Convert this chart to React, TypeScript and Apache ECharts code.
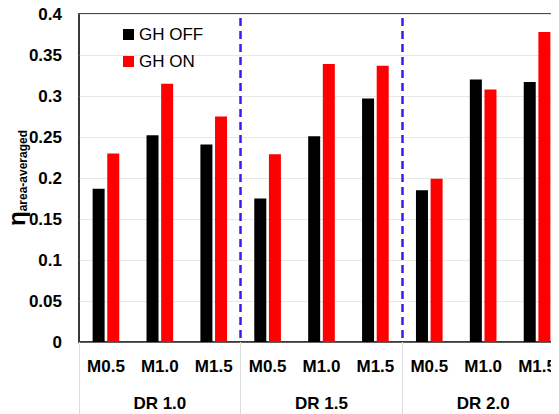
import React, { useEffect, useRef } from "react";
import * as echarts from "echarts";

const categories = ["M0.5", "M1.0", "M1.5", "M0.5", "M1.0", "M1.5", "M0.5", "M1.0", "M1.5"];
const groups = ["DR 1.0", "DR 1.5", "DR 2.0"];
const ghOff = [0.187, 0.252, 0.241, 0.175, 0.251, 0.297, 0.185, 0.320, 0.317];
const ghOn = [0.230, 0.315, 0.275, 0.229, 0.339, 0.337, 0.199, 0.308, 0.378];
const separators = [3, 6];

const FONT = "'Liberation Sans', Arial, sans-serif";

export default function App() {
  const ref = useRef<HTMLDivElement>(null);
  useEffect(() => {
    if (!ref.current) return;
    const chart = echarts.init(ref.current, undefined, { renderer: "svg" });
    chart.setOption({
      animation: false,
      textStyle: { fontFamily: FONT },
      legend: {
        left: 118,
        top: 21,
        orient: "vertical",
        itemWidth: 11,
        itemHeight: 11,
        itemGap: 10,
        icon: "rect",
        textStyle: { fontSize: 17, color: "#000", fontFamily: FONT },
        data: ["GH OFF", "GH ON"],
      },
      grid: {
        left: 79,
        top: 14,
        width: 485,
        height: 328,
        show: true,
        borderColor: "#111",
        borderWidth: 1.5,
        containLabel: false,
        outerBoundsMode: "none",
      },
      xAxis: [
        {
          type: "category",
          data: categories,
          axisLine: { lineStyle: { color: "#333", width: 1.5 } },
          axisTick: { show: false },
          axisLabel: { fontSize: 17, fontWeight: "bold", color: "#000", margin: 16, interval: 0 },
        },
        {
          type: "category",
          data: groups,
          position: "bottom",
          axisLine: { show: false },
          axisTick: { show: true, length: 75, interval: 0, lineStyle: { color: "#dddddd", width: 1 } },
          axisLabel: { fontSize: 17, fontWeight: "bold", color: "#000", margin: 53, interval: 0 },
        },
        {
          type: "value",
          min: 0,
          max: 9,
          show: false,
        },
      ],
      yAxis: {
        type: "value",
        min: 0,
        max: 0.4,
        interval: 0.05,
        axisLine: { show: true, lineStyle: { color: "#333", width: 1.5 } },
        axisTick: { show: false },
        splitLine: { lineStyle: { color: "#e8e8e8", width: 1 } },
        axisLabel: {
          fontSize: 17,
          fontWeight: "bold",
          color: "#000",
          margin: 17,
          formatter: (v: number) => String(+v.toFixed(2)),
        },
        name: "{eta|η}{sub|area-averaged}",
        nameLocation: "middle",
        nameGap: 50,
        nameMoveOverlap: false,
        nameTextStyle: {
          rich: {
            eta: { fontSize: 24, fontWeight: "bold", color: "#000", fontFamily: FONT, lineHeight: 26 },
            sub: { fontSize: 12, color: "#000", fontFamily: FONT, fontWeight: "bold", verticalAlign: "bottom", padding: [10, 0, 0, 0] },
          },
        },
      },
      series: [
        {
          name: "GH OFF",
          type: "bar",
          xAxisIndex: 0,
          data: ghOff,
          barWidth: 12,
          barGap: "22%",
          itemStyle: { color: "#000000" },
        },
        {
          name: "GH ON",
          type: "bar",
          xAxisIndex: 0,
          data: ghOn,
          barWidth: 12,
          barGap: "22%",
          itemStyle: { color: "#ff0000" },
        },
        {
          name: "sep",
          type: "line",
          xAxisIndex: 2,
          yAxisIndex: 0,
          data: [[0, 0]],
          symbol: "none",
          lineStyle: { opacity: 0 },
          silent: true,
          markLine: {
            silent: true,
            symbol: "none",
            label: { show: false },
            lineStyle: { color: "#3a1cf2", type: [8, 5], width: 2.5 },
            data: separators.map((s) => [{ coord: [s, 0.395] }, { coord: [s, 0] }]),
          },
        },
      ],
    });
    return () => chart.dispose();
  }, []);
  return <div ref={ref} style={{ width: 559, height: 414, marginLeft: -8, marginTop: -8 }} />;
}
